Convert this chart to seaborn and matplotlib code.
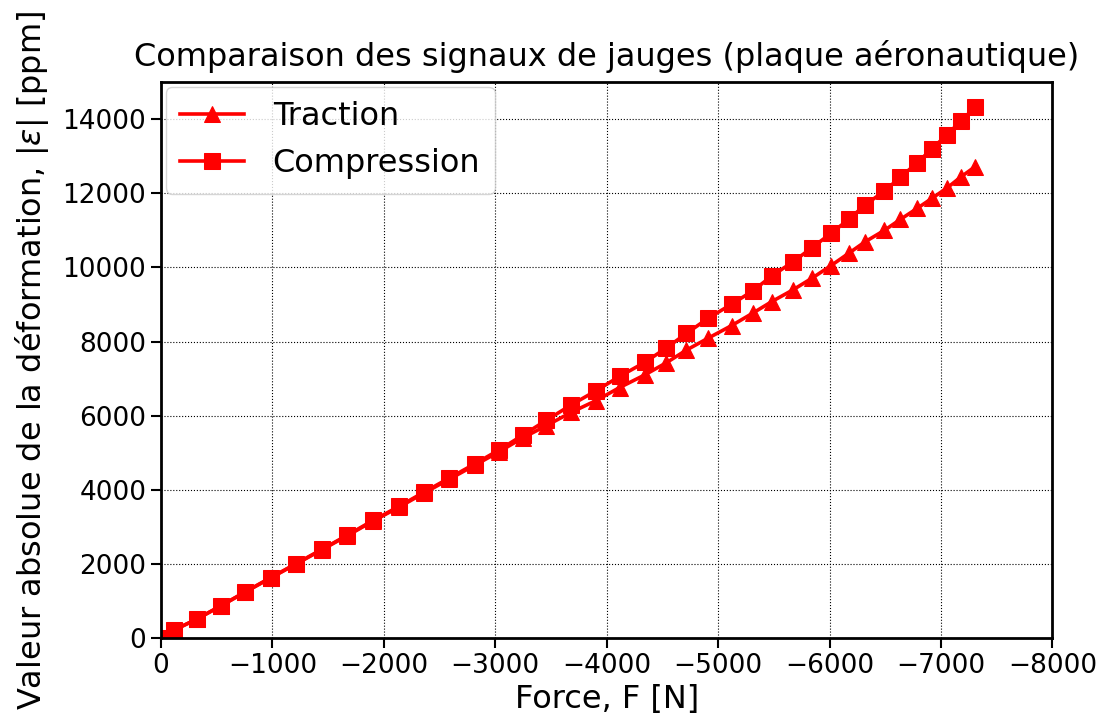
import matplotlib
matplotlib.use("Agg")
import matplotlib.pyplot as plt
import seaborn as sns
import pandas as pd

force = [0, -117, -321, -537, -756, -987, -1215, -1446, -1671, -1905, -2136, -2361,
         -2586, -2817, -3036, -3245, -3460, -3681, -3906, -4116, -4341, -4536, -4716,
         -4912, -5122, -5311, -5482, -5671, -5842, -6013, -6172, -6320, -6492, -6636,
         -6786, -6921, -7056, -7176, -7306]
compression = [0, 215, 511, 870, 1246, 1634, 2011, 2396, 2773, 3177, 3553, 3938,
               4315, 4702, 5079, 5470, 5880, 6290, 6676, 7061, 7438, 7830, 8220,
               8633, 9010, 9368, 9772, 10149, 10534, 10921, 11298, 11690, 12060,
               12437, 12822, 13210, 13587, 13945, 14322]
traction = [0, 215, 509, 866, 1240, 1626, 2002, 2386, 2760, 3160, 3533, 3913,
            4285, 4665, 5030, 5400, 5734, 6090, 6410, 6760, 7100, 7430, 7772,
            8095, 8434, 8768, 9080, 9395, 9710, 10050, 10383, 10695, 11002,
            11298, 11594, 11870, 12149, 12437, 12720]

series_names = ["Traction", "Compression"]
markers = {"Traction": "^", "Compression": "s"}

df = pd.concat([
    pd.DataFrame({"F": force, "eps": traction, "serie": "Traction"}),
    pd.DataFrame({"F": force, "eps": compression, "serie": "Compression"}),
])

plt.rcParams['font.family'] = ['DejaVu Sans']
fig = plt.figure(figsize=(11.02, 7.21), dpi=100)
ax = fig.add_axes([0.146, 0.115, 0.809, 0.771])

for name in series_names:
    sub = df[df["serie"] == name]
    sns.lineplot(data=sub, x="F", y="eps", ax=ax, color="red", marker=markers[name],
                 markersize=11, linewidth=2.6, markeredgecolor="red", label=name,
                 sort=False, estimator=None)

ax.set_xlim(0, -8000)
ax.set_ylim(0, 15000)
ax.set_xticks(range(0, -8001, -1000))
ax.set_yticks(range(0, 14001, 2000))
ax.grid(True, color="black", linestyle=":", linewidth=0.8)
ax.tick_params(labelsize=19, width=1.5, length=7)
for s in ax.spines.values():
    s.set_linewidth(2)
ax.set_xlabel("Force, F [N]", fontsize=23, labelpad=4)
ax.set_ylabel(r"Valeur absolue de la déformation, $|\varepsilon|$ [ppm]", fontsize=23, labelpad=8)
ax.set_title("Comparaison des signaux de jauges (plaque aéronautique)", fontsize=23, pad=12)
ax.legend(loc="upper left", fontsize=23, handlelength=2.0, borderaxespad=0.15,
          borderpad=0.45, handletextpad=0.9)

fig.savefig("out.png", dpi=100)
